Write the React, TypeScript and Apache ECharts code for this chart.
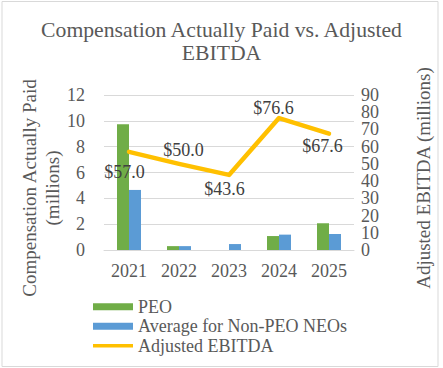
import React, { useEffect, useRef } from "react";
import * as echarts from "echarts";

const categories = ["2021", "2022", "2023", "2024", "2025"];
const peoValues = [9.74, 0.3, 0, 1.08, 2.07];
const neoValues = [4.65, 0.3, 0.46, 1.19, 1.24];
const ebitdaValues = [57.0, 50.0, 43.6, 76.6, 67.6];
const leftTicks = { min: 0, max: 12, interval: 2 };
const rightTicks = { min: 0, max: 90, interval: 10 };
// right-axis labels are drawn by two label-only axes so that none is hidden
const rightEvenTicks = { min: 0, max: 80, interval: 20 };
const rightOddTicks = { min: 10, max: 90, interval: 20 };

// label centre relative to the data point, in px
const labelShifts = [
  [-4.5, 20],
  [4.5, -14],
  [-4.5, 14],
  [-5.5, -10],
  [-6.5, 12.5],
];

const FONT = "Liberation Serif";
const GRAY = "#595959";

const GRID_LEFT = 104;
const GRID_RIGHT = 89;
const GRID_TOP = 95;
const GRID_BOTTOM = 118;
const PLOT_H = 368 - GRID_TOP - GRID_BOTTOM;
const STEP_PX = (PLOT_H * rightTicks.interval) / (rightTicks.max - rightTicks.min);

const rightLabelStyle = {
  fontFamily: FONT,
  fontSize: 18,
  color: GRAY,
  margin: 7,
  showMinLabel: true,
  showMaxLabel: true,
};

export default function App() {
  const ref = useRef<HTMLDivElement>(null);

  useEffect(() => {
    if (!ref.current) return;
    const chart = echarts.init(ref.current, undefined, { renderer: "svg" });
    chart.setOption({
      animation: false,
      backgroundColor: "#ffffff",
      title: {
        text: "Compensation Actually Paid vs. Adjusted\nEBITDA",
        left: "center",
        top: 18,
        padding: 0,
        textStyle: {
          fontFamily: FONT,
          fontSize: 21.7,
          lineHeight: 23,
          fontWeight: "normal",
          color: GRAY,
        },
      },
      graphic: [
        {
          type: "rect",
          z: -10,
          silent: true,
          shape: { x: 2, y: 1.5, width: 436, height: 365 },
          style: { fill: "none", stroke: "#D9D9D9", lineWidth: 1 },
        },
        {
          type: "text",
          x: 41,
          y: 188,
          rotation: Math.PI / 2,
          style: {
            text: "Compensation Actually Paid\n(millions)",
            fontFamily: FONT,
            fontSize: 19,
            lineHeight: 23,
            fill: GRAY,
            align: "center",
            verticalAlign: "middle",
          },
        },
        {
          type: "text",
          x: 423,
          y: 178,
          rotation: Math.PI / 2,
          style: {
            text: "Adjusted EBITDA (millions)",
            fontFamily: FONT,
            fontSize: 19,
            fill: GRAY,
            align: "center",
            verticalAlign: "middle",
          },
        },
      ],
      legend: {
        orient: "vertical",
        left: 93,
        top: 297,
        padding: 0,
        itemWidth: 40,
        itemHeight: 7,
        itemGap: 0,
        textStyle: {
          fontFamily: FONT,
          fontSize: 18,
          lineHeight: 19.5,
          color: GRAY,
        },
        data: [
          { name: "PEO", icon: "rect" },
          { name: "Average for Non-PEO NEOs", icon: "rect" },
          { name: "Adjusted EBITDA", icon: "path://M0,0 H44 V4 H0 Z" },
        ],
      },
      grid: [
        { left: GRID_LEFT, right: GRID_RIGHT, top: GRID_TOP, bottom: GRID_BOTTOM },
        { left: GRID_LEFT, right: GRID_RIGHT, top: GRID_TOP + STEP_PX, bottom: GRID_BOTTOM },
        { left: GRID_LEFT, right: GRID_RIGHT, top: GRID_TOP, bottom: GRID_BOTTOM + STEP_PX },
      ],
      xAxis: [
        {
          type: "category",
          gridIndex: 0,
          data: categories,
          axisLine: { show: true, lineStyle: { color: "#D9D9D9", width: 1 } },
          axisTick: { show: false },
          axisLabel: {
            fontFamily: FONT,
            fontSize: 18,
            color: GRAY,
            margin: 12,
          },
        },
        { type: "category", gridIndex: 1, data: categories, show: false },
        { type: "category", gridIndex: 2, data: categories, show: false },
      ],
      yAxis: [
        {
          type: "value",
          gridIndex: 0,
          min: leftTicks.min,
          max: leftTicks.max,
          interval: leftTicks.interval,
          axisLine: { show: false },
          axisTick: { show: false },
          splitLine: { lineStyle: { color: "#D9D9D9", width: 1 } },
          axisLabel: {
            fontFamily: FONT,
            fontSize: 18,
            color: GRAY,
            margin: 19,
            showMinLabel: true,
            showMaxLabel: true,
          },
        },
        {
          type: "value",
          gridIndex: 0,
          position: "right",
          min: rightTicks.min,
          max: rightTicks.max,
          interval: rightTicks.interval,
          axisLine: { show: false },
          axisTick: { show: false },
          splitLine: { show: false },
          axisLabel: { show: false },
        },
        {
          type: "value",
          gridIndex: 1,
          position: "right",
          min: rightEvenTicks.min,
          max: rightEvenTicks.max,
          interval: rightEvenTicks.interval,
          axisLine: { show: false },
          axisTick: { show: false },
          splitLine: { show: false },
          axisLabel: rightLabelStyle,
        },
        {
          type: "value",
          gridIndex: 2,
          position: "right",
          min: rightOddTicks.min,
          max: rightOddTicks.max,
          interval: rightOddTicks.interval,
          axisLine: { show: false },
          axisTick: { show: false },
          splitLine: { show: false },
          axisLabel: rightLabelStyle,
        },
      ],
      series: [
        {
          name: "PEO",
          type: "bar",
          xAxisIndex: 0,
          yAxisIndex: 0,
          data: peoValues,
          barWidth: 12,
          barGap: "0%",
          itemStyle: { color: "#70AD47" },
        },
        {
          name: "Average for Non-PEO NEOs",
          type: "bar",
          xAxisIndex: 0,
          yAxisIndex: 0,
          data: neoValues,
          barWidth: 12,
          barGap: "0%",
          itemStyle: { color: "#5B9BD5" },
        },
        {
          name: "Adjusted EBITDA",
          type: "line",
          xAxisIndex: 0,
          yAxisIndex: 1,
          symbol: "none",
          lineStyle: { color: "#FFC000", width: 4.5, cap: "round", join: "round" },
          itemStyle: { color: "#FFC000" },
          data: ebitdaValues,
        },
        {
          name: "EBITDA labels",
          type: "custom",
          xAxisIndex: 0,
          yAxisIndex: 1,
          z: 5,
          data: ebitdaValues.map((v, i) => [i, v]),
          renderItem: (params: any, api: any) => {
            const i = params.dataIndex;
            const p = api.coord([api.value(0), api.value(1)]);
            return {
              type: "text",
              x: p[0] + labelShifts[i][0],
              y: p[1] + labelShifts[i][1],
              style: {
                text: "$" + Number(api.value(1)).toFixed(1),
                fontFamily: FONT,
                fontSize: 18,
                fill: "#404040",
                align: "center",
                verticalAlign: "middle",
              },
            };
          },
        },
      ],
    });
    return () => chart.dispose();
  }, []);

  return (
    <div
      ref={ref}
      style={{ position: "fixed", left: 0, top: 0, width: 443, height: 368 }}
    />
  );
}
